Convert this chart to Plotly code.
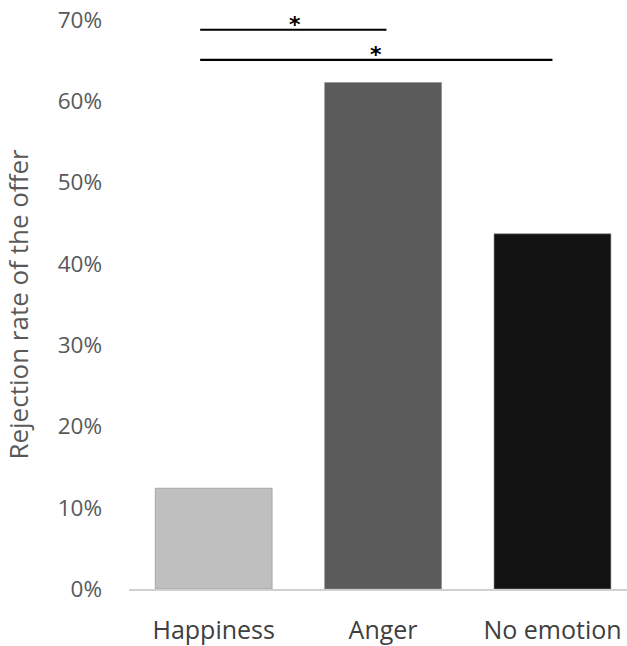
import plotly.graph_objects as go

categories = ["Happiness", "Anger", "No emotion"]
rejection_rate = [0.124, 0.623, 0.437]
bar_colors = ["#bfbfbf", "#5b5b5b", "#121212"]
y_ticks = [0, 0.1, 0.2, 0.3, 0.4, 0.5, 0.6, 0.7]
y_tick_labels = ["0%", "10%", "20%", "30%", "40%", "50%", "60%", "70%"]

# significance brackets: (x start, x end, line y, star x, star y)
sig_brackets = [(-0.08, 1.02, 0.688, 0.48, 0.694), (-0.08, 2.0, 0.651, 0.96, 0.657)]

fig = go.Figure()
fig.add_trace(go.Bar(
    x=[0, 1, 2], y=rejection_rate, width=0.69,
    marker=dict(color=bar_colors, line=dict(color="#8a8a8a", width=0.6)),
    hoverinfo="skip",
))

for x0, x1, ly, sx, sy in sig_brackets:
    fig.add_shape(type="line", x0=x0, x1=x1, y0=ly, y1=ly, xref="x", yref="y",
                  line=dict(color="black", width=2.2))
    fig.add_annotation(x=sx, y=sy, text="<b>*</b>", showarrow=False, xref="x", yref="y",
                       font=dict(size=22, color="black", family="DejaVu Sans"))

font_family = "Open Sans, Noto Sans, sans-serif"
fig.update_layout(
    width=627, height=646,
    margin=dict(l=129, r=0, t=20, b=52),
    plot_bgcolor="white", paper_bgcolor="white",
    showlegend=False,
    font=dict(family=font_family, color="#595959", size=20),
    xaxis=dict(
        tickmode="array", tickvals=[0, 1, 2], ticktext=categories,
        range=[-0.5, 2.44], showgrid=False, zeroline=False,
        showline=True, linecolor="#d0d0d0", linewidth=1.5,
        ticks="", ticklabelstandoff=18,
        tickfont=dict(size=25, color="#404040"),
    ),
    yaxis=dict(
        range=[0, 0.7], tickmode="array", tickvals=y_ticks, ticktext=y_tick_labels,
        showgrid=False, zeroline=False, showline=False, ticks="",
        ticklabelstandoff=26,
        tickfont=dict(size=22.5, color="#595959"),
        title=dict(text="Rejection rate of the offer", font=dict(size=26, color="#595959"),
                   standoff=24),
    ),
)

fig.write_html("out.html", config={"displayModeBar": False},
               post_script="document.body.style.margin='0';document.body.style.overflow='hidden';")
